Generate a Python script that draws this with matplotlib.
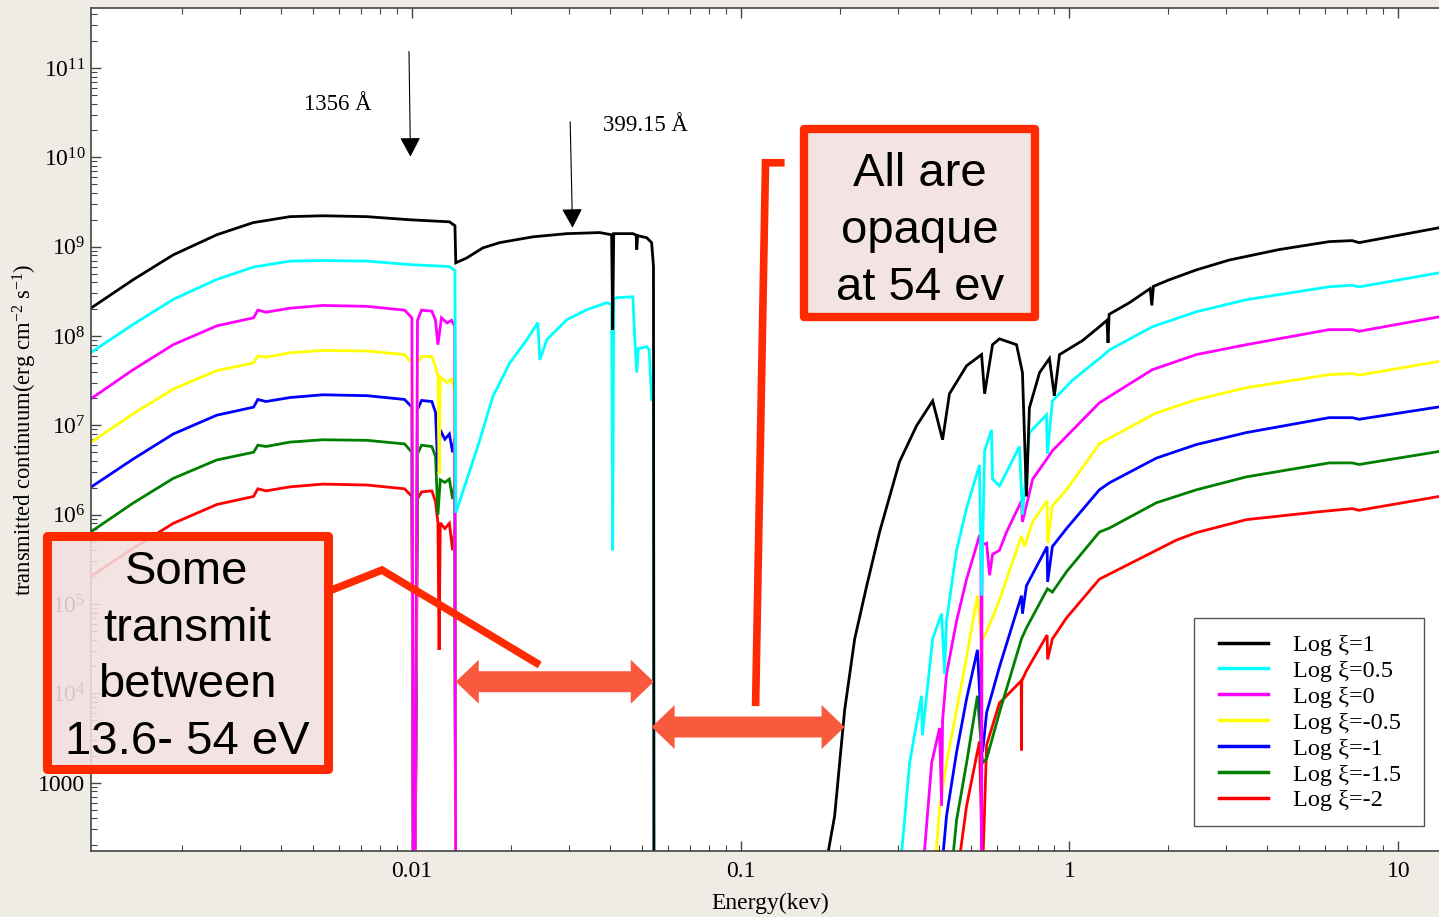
import numpy as np
import matplotlib.pyplot as plt
from matplotlib.lines import Line2D
from matplotlib.patches import Rectangle, Polygon
from matplotlib.ticker import FixedLocator, LogLocator, NullFormatter, FuncFormatter

plt.rcParams['font.family'] = ['Liberation Serif', 'DejaVu Serif']
plt.rcParams['mathtext.fontset'] = 'custom'
plt.rcParams['mathtext.rm'] = 'Liberation Serif'
plt.rcParams['mathtext.it'] = 'Liberation Serif:italic'

# energies in keV, transmitted continuum in erg cm^-2 s^-1
# (values of 10 / 100 mean the curve drops below the plotted range)
black_e = [0.00106, 0.00142, 0.00188, 0.00255, 0.00329, 0.00426, 0.00536, 0.0073, 0.0099, 0.0130,
           0.01352, 0.0136, 0.0147, 0.01644, 0.01849, 0.02085, 0.02333, 0.02958, 0.03726, 0.0405,
           0.0408, 0.0411, 0.0470, 0.0481, 0.0483, 0.0486, 0.0518, 0.0536, 0.0543, 0.0545,
           0.180, 0.1931, 0.2071, 0.2222, 0.2417, 0.2645, 0.304, 0.3427, 0.3836, 0.4112,
           0.4315, 0.4865, 0.5403, 0.5519, 0.5835, 0.6124, 0.6902, 0.7194, 0.7397, 0.7552,
           0.811, 0.869, 0.8995, 0.9325, 1.096, 1.233, 1.30, 1.31, 1.32, 1.521,
           1.76, 1.78, 1.80, 2.013, 2.432, 3.063, 4.348, 6.166, 7.244, 7.6, 13.3]
black_f = [2.07e8, 4.27e8, 8.1e8, 1.36e9, 1.86e9, 2.17e9, 2.22e9, 2.17e9, 2.0e9, 1.9e9,
           1.72e9, 6.6e8, 7.5e8, 9.7e8, 1.11e9, 1.20e9, 1.29e9, 1.40e9, 1.44e9, 1.36e9,
           1.18e8, 1.40e9, 1.40e9, 1.35e9, 9.3e8, 1.33e9, 1.26e9, 1.11e9, 6.0e8, 10,
           100, 425, 6.5e3, 4.07e4, 1.6e5, 6.4e5, 3.9e6, 9.9e6, 1.88e7, 6.9e6,
           2.26e7, 4.65e7, 6.2e7, 2.26e7, 8.0e7, 9.3e7, 8.0e7, 3.9e7, 1.6e6, 1.57e7,
           3.9e7, 5.6e7, 2.14e7, 6.2e7, 8.9e7, 1.27e8, 1.5e8, 8.4e7, 1.75e8, 2.36e8,
           3.4e8, 2.2e8, 3.6e8, 4.27e8, 5.5e8, 7.1e8, 9.3e8, 1.14e9, 1.17e9, 1.11e9, 1.63e9]

cyan_e = [0.00106, 0.00142, 0.00188, 0.00255, 0.00329, 0.00426, 0.00536, 0.0073, 0.0099, 0.0130,
          0.01352, 0.0136, 0.01469, 0.0161, 0.01762, 0.01985, 0.02237, 0.02415, 0.0245, 0.02572,
          0.02958, 0.03402, 0.03913, 0.0405, 0.0408, 0.0411, 0.0420, 0.0470, 0.0476, 0.0483,
          0.0488, 0.0518, 0.0527, 0.0536, 0.0543, 0.0545,
          0.305, 0.3265, 0.3548, 0.357, 0.3836, 0.4084, 0.4169, 0.4227, 0.4536, 0.4865,
          0.5324, 0.5403, 0.5519, 0.5795, 0.5835, 0.6124, 0.6437, 0.7047, 0.7194, 0.7552,
          0.8511, 0.857, 0.8872, 1.021, 1.233, 1.324, 1.786, 2.432, 3.449, 6.166,
          7.244, 7.6, 13.3]
cyan_f = [6.6e7, 1.35e8, 2.57e8, 4.3e8, 5.9e8, 6.9e8, 7.0e8, 6.9e8, 6.3e8, 6.0e8,
          5.4e8, 1.05e6, 2.46e6, 6.9e6, 2.09e7, 5.0e7, 9.1e7, 1.41e8, 5.4e7, 9.1e7,
          1.52e8, 1.97e8, 2.36e8, 2.25e8, 4.0e5, 2.6e8, 2.69e8, 2.75e8, 9.8e7, 3.9e7,
          7.2e7, 7.6e7, 7.0e7, 1.94e7, 1.9e7, 10,
          100, 1.67e3, 9.4e3, 3.4e3, 4.07e4, 7.8e4, 1.65e4, 6.5e4, 4.0e5, 1.19e6,
          3.6e6, 1.24e5, 5.2e6, 8.9e6, 2.5e6, 2.1e6, 3.0e6, 5.8e6, 1.0e6, 8.3e6,
          1.31e7, 4.8e6, 1.88e7, 3.2e7, 5.6e7, 7.0e7, 1.27e8, 1.87e8, 2.55e8, 3.56e8,
          3.7e8, 3.55e8, 5.1e8]

magenta_e = [0.00106, 0.00142, 0.00188, 0.00255, 0.0033, 0.0034, 0.0036, 0.00426, 0.00536, 0.0073,
             0.0095, 0.0100, 0.01012, 0.01020, 0.0104, 0.0107, 0.0115, 0.0118, 0.0120, 0.0123,
             0.0128, 0.0132, 0.0135, 0.0136,
             0.358, 0.381, 0.4027, 0.4084, 0.4112, 0.4227, 0.4536, 0.4865, 0.5324, 0.538,
             0.540, 0.542, 0.5598, 0.5715, 0.5835, 0.6124, 0.6437, 0.7145, 0.7194, 0.7727,
             0.857, 0.8872, 1.233, 1.786, 2.432, 3.449, 6.166, 7.244, 7.6, 13.3]
magenta_f = [2.0e7, 4.2e7, 8.0e7, 1.3e8, 1.6e8, 1.95e8, 1.85e8, 2.05e8, 2.2e8, 2.15e8,
             1.95e8, 1.6e8, 10, 10, 1.5e8, 1.95e8, 1.9e8, 1.5e8, 8e7, 1.6e8,
             1.4e8, 1.5e8, 1.3e8, 10,
             100, 1.67e3, 4.1e3, 550, 5.0e3, 1.65e4, 6.5e4, 1.9e5, 5.8e5, 5.8e5,
             10, 4.6e5, 4.8e5, 2.1e5, 3.6e5, 4.0e5, 6.4e5, 1.43e6, 8.3e5, 2.5e6,
             4.3e6, 5.2e6, 1.79e7, 4.2e7, 6.2e7, 8.0e7, 1.18e8, 1.18e8, 1.13e8, 1.64e8]

yellow_e = [0.00106, 0.00142, 0.00188, 0.00255, 0.0033, 0.0034, 0.0036, 0.00426, 0.00536, 0.0073,
            0.0095, 0.0100, 0.01012, 0.01020, 0.0104, 0.0107, 0.0115, 0.0118, 0.0120, 0.0121,
            0.0122, 0.0128, 0.0132, 0.0135, 0.0136,
            0.389, 0.4027, 0.4227, 0.4536, 0.4865, 0.525, 0.5403, 0.5598, 0.6124, 0.7145,
            0.7295, 0.7727, 0.855, 0.858, 0.8872, 0.9795, 1.233, 1.324, 1.837, 2.432,
            3.449, 6.166, 7.244, 7.6, 13.3]
yellow_f = [6.5e6, 1.35e7, 2.55e7, 4.1e7, 5.0e7, 6.0e7, 5.8e7, 6.5e7, 6.9e7, 6.8e7,
            6.2e7, 5.0e7, 10, 10, 5.0e7, 5.9e7, 5.9e7, 4.5e7, 3.5e7, 2.9e6,
            3.5e7, 3.0e7, 3.3e7, 2.5e7, 10,
            100, 510, 1.67e3, 6.5e3, 2.57e4, 1.24e5, 3.8e4, 4.9e4, 1.11e5, 5.8e5,
            4.4e5, 8.3e5, 1.43e6, 4.8e5, 1.26e6, 1.9e6, 6.2e6, 7.2e6, 1.38e7, 1.94e7,
            2.64e7, 3.7e7, 3.8e7, 3.65e7, 5.2e7]

blue_e = [0.00106, 0.00142, 0.00188, 0.00255, 0.0033, 0.0034, 0.0036, 0.00426, 0.00536, 0.0073,
          0.0095, 0.0100, 0.01012, 0.01020, 0.0104, 0.0107, 0.0115, 0.0118, 0.0120, 0.0122,
          0.0126, 0.0130, 0.0133, 0.0135, 0.0136,
          0.408, 0.4227, 0.4536, 0.4865, 0.525, 0.5441, 0.5598, 0.6124, 0.7145, 0.7194,
          0.7397, 0.855, 0.858, 0.8872, 0.9795, 1.233, 1.324, 1.837, 2.432, 3.449,
          6.166, 7.244, 7.6, 13.3]
blue_f = [2.05e6, 4.2e6, 8.0e6, 1.3e7, 1.6e7, 1.95e7, 1.85e7, 2.05e7, 2.2e7, 2.15e7,
          1.95e7, 1.6e7, 10, 10, 1.5e7, 1.9e7, 1.85e7, 1.4e7, 3.0e6, 8.9e6,
          7.0e6, 8.0e6, 5.0e6, 7.0e6, 10,
          100, 425, 2.2e3, 8.7e3, 3.07e4, 2.2e3, 6.1e3, 1.98e4, 1.24e5, 7.8e4,
          1.6e5, 4.4e5, 1.77e5, 4.4e5, 7.0e5, 1.9e6, 2.28e6, 4.3e6, 6.1e6, 8.3e6,
          1.22e7, 1.22e7, 1.17e7, 1.61e7]

green_e = [0.00106, 0.00142, 0.00188, 0.00255, 0.0033, 0.0034, 0.0036, 0.00426, 0.00536, 0.0073,
           0.0095, 0.0100, 0.01012, 0.01020, 0.0104, 0.0107, 0.0115, 0.0118, 0.0120, 0.0122,
           0.0126, 0.0130, 0.0133, 0.0135, 0.0136,
           0.4375, 0.4536, 0.4865, 0.525, 0.5441, 0.5598, 0.6124, 0.7145, 0.7397, 0.857,
           0.8872, 0.9795, 1.233, 1.324, 1.837, 2.432, 3.449, 6.166, 7.244, 7.6, 13.3]
green_f = [6.5e5, 1.35e6, 2.55e6, 4.1e6, 5.0e6, 6.0e6, 5.8e6, 6.5e6, 6.9e6, 6.8e6,
           6.2e6, 5.0e6, 10, 10, 4.8e6, 6.0e6, 5.8e6, 4.5e6, 1.0e6, 2.46e6,
           2.3e6, 2.5e6, 1.5e6, 2.2e6, 10,
           100, 383, 1.67e3, 9.4e3, 1.67e3, 1.85e3, 6.1e3, 4.07e4, 5.4e4, 1.48e5,
           1.36e5, 2.3e5, 6.4e5, 7.1e5, 1.36e6, 1.9e6, 2.65e6, 3.8e6, 3.8e6, 3.65e6, 5.1e6]

red_e = [0.00106, 0.00142, 0.00188, 0.00255, 0.0033, 0.0034, 0.0036, 0.00426, 0.00536, 0.0073,
         0.0095, 0.0100, 0.01012, 0.01020, 0.0104, 0.0107, 0.0115, 0.0118, 0.0120, 0.0121,
         0.0122, 0.0126, 0.0130, 0.0133, 0.0135, 0.0136,
         0.457, 0.4865, 0.5324, 0.5441, 0.5598, 0.6124, 0.7130, 0.7145, 0.7160, 0.7397,
         0.855, 0.858, 0.8872, 0.9795, 1.233, 2.115, 2.432, 3.449, 5.754, 7.244, 7.6, 13.3]
red_f = [2.07e5, 4.2e5, 8.0e5, 1.3e6, 1.6e6, 1.95e6, 1.85e6, 2.05e6, 2.2e6, 2.15e6,
         1.95e6, 1.6e6, 10, 10, 1.5e6, 1.8e6, 1.85e6, 1.4e6, 8.1e5, 3.07e4,
         8.1e5, 7.0e5, 8.0e5, 4.0e5, 7.0e5, 10,
         100, 550, 2.9e3, 100, 2.65e3, 7.8e3, 1.38e4, 2.3e3, 1.38e4, 1.79e4,
         4.5e4, 2.4e4, 4.07e4, 7.0e4, 1.9e5, 5.2e5, 6.3e5, 8.8e5, 1.08e6, 1.17e6, 1.12e6, 1.6e6]

labels = ['Log ξ=1', 'Log ξ=0.5', 'Log ξ=0', 'Log ξ=-0.5', 'Log ξ=-1', 'Log ξ=-1.5', 'Log ξ=-2']
colors = ['black', '#00ffff', '#ff00ff', '#ffff00', '#0000ff', '#008000', '#ff0000']
series = [(black_e, black_f), (cyan_e, cyan_f), (magenta_e, magenta_f), (yellow_e, yellow_f),
          (blue_e, blue_f), (green_e, green_f), (red_e, red_f)]
y_ticks = [1e3, 1e4, 1e5, 1e6, 1e7, 1e8, 1e9, 1e10, 1e11]

W, H = 1439, 917
fig = plt.figure(figsize=(W / 100, H / 100), dpi=100)
fig.patch.set_facecolor('#efece6')
ax = fig.add_axes([91 / W, 66 / H, 1348 / W, 843 / H])
ax.set_facecolor('white')

# draw lowest ionisation first so Log xi=1 ends up on top
for (e, f), c in list(zip(series, colors))[::-1]:
    ax.plot(e, f, color=c, lw=2.0, solid_joinstyle='miter')

ax.set_xscale('log')
ax.set_yscale('log')
ax.set_xlim(0.001057, 13.3)
ax.set_ylim(172, 4.7e11)

ax.xaxis.set_major_locator(FixedLocator([0.01, 0.1, 1, 10]))
ax.xaxis.set_major_formatter(FuncFormatter(lambda v, p: '%g' % v))
ax.xaxis.set_minor_locator(LogLocator(base=10, subs=np.arange(2, 10), numticks=20))
ax.xaxis.set_minor_formatter(NullFormatter())
ax.yaxis.set_major_locator(FixedLocator(y_ticks))
ax.yaxis.set_minor_locator(LogLocator(base=10, subs=np.arange(2, 10), numticks=20))
ax.yaxis.set_minor_formatter(NullFormatter())


def ylab(v, p):
    n = int(round(np.log10(v)))
    if n == 3:
        return '1000'
    return r'$\mathregular{10^{%d}}$' % n


ax.yaxis.set_major_formatter(FuncFormatter(ylab))
ax.tick_params(which='both', direction='in', top=True, right=False, color='#444444')
ax.tick_params(which='major', length=7, width=1.0, labelsize=17)
ax.tick_params(which='minor', length=4, width=0.8)
ax.tick_params(axis='x', which='major', pad=7)
ax.tick_params(axis='y', which='major', pad=4)
ax.spines['right'].set_visible(False)
for s in ['left', 'bottom', 'top']:
    ax.spines[s].set_color('#444444')
    ax.spines[s].set_linewidth(1.2)

fig.text(25 / W, 1 - 430 / H, r'transmitted continuum(erg cm$^{-2}$ s$^{-1}$)',
         rotation=90, ha='center', va='center', fontsize=16.3)
fig.text(770 / W, 1 - 903 / H, 'Energy(kev)', ha='center', va='center', fontsize=17)

# wavelength markers
ax.annotate('', xy=(0.0099, 1.02e10), xytext=(0.0098, 1.53e11),
            arrowprops=dict(arrowstyle='-|>,head_length=0.6,head_width=0.32', color='black',
                            lw=0.8, shrinkA=0, shrinkB=0, mutation_scale=20))
ax.text(0.00596, 3.9e10, '1356 Å', ha='center', va='center', fontsize=16.5)
ax.annotate('', xy=(0.0308, 1.63e9), xytext=(0.0303, 2.5e10),
            arrowprops=dict(arrowstyle='-|>,head_length=0.6,head_width=0.32', color='black',
                            lw=0.8, shrinkA=0, shrinkB=0, mutation_scale=20))
ax.text(0.0514, 2.27e10, '399.15 Å', ha='center', va='center', fontsize=16.5)

# double arrows for the H and He+ edges, built as one polygon in pixel units
arrow_col = '#f95a3e'
band = [(0.0136, 0.0544, 1.35e4), (0.0536, 0.207, 4.2e3)]
head_len, head_half, shaft_half = 23, 22, 10.5
for x0, x1, yv in band:
    (px0, py), (px1, _) = ax.transData.transform([(x0, yv), (x1, yv)])
    pts = [(px0, py), (px0 + head_len, py + head_half), (px0 + head_len, py + shaft_half),
           (px1 - head_len, py + shaft_half), (px1 - head_len, py + head_half), (px1, py),
           (px1 - head_len, py - head_half), (px1 - head_len, py - shaft_half),
           (px0 + head_len, py - shaft_half), (px0 + head_len, py - head_half)]
    ax.add_patch(Polygon(ax.transData.inverted().transform(pts), closed=True,
                         facecolor=arrow_col, edgecolor='none', zorder=3))

# callout lines
callout_red = '#ff2a00'
ax.plot([0.00571, 0.00811, 0.02448], [1.44e5, 2.4e5, 2.08e4], color=callout_red, lw=5.5,
        solid_joinstyle='miter', solid_capstyle='butt')
ax.plot([0.136, 0.119, 0.111], [8.7e9, 8.7e9, 7.2e3], color=callout_red, lw=5.5,
        solid_joinstyle='miter', solid_capstyle='butt')

# text boxes
box_fill = (0.953, 0.878, 0.878, 0.88)
fig.patches.append(Rectangle((46.5 / W, 1 - 768.5 / H), 281 / W, 233 / H, transform=fig.transFigure,
                             facecolor=box_fill, edgecolor=callout_red, lw=6.5, joinstyle='round'))
fig.patches.append(Rectangle((804 / W, 1 - 317 / H), 231 / W, 188 / H, transform=fig.transFigure,
                             facecolor=box_fill, edgecolor=callout_red, lw=6.0, joinstyle='round'))
fig.text(187 / W, 1 - 657 / H, 'Some\ntransmit\nbetween\n13.6- 54 eV', ha='center', va='center',
         fontsize=34, family='Liberation Sans', linespacing=1.37, zorder=5)
fig.text(920 / W, 1 - 231 / H, 'All are\nopaque\nat 54 ev', ha='center', va='center',
         fontsize=34, family='Liberation Sans', linespacing=1.37, zorder=5)

# legend: frame drawn separately so the padding can match
fig.patches.append(Rectangle((1194 / W, 1 - 826 / H), 230 / W, 208 / H, transform=fig.transFigure,
                             facecolor='white', edgecolor='#555555', lw=1.0, zorder=4))
handles = [Line2D([], [], color=c, lw=2.5) for c in colors]
leg = ax.legend(handles, labels, loc='upper left', bbox_to_anchor=(1219 / W, 1 - 634 / H),
                bbox_transform=fig.transFigure, frameon=False, fontsize=17.5,
                handlelength=2.0, handletextpad=1.05, labelspacing=0.16,
                borderpad=0, borderaxespad=0)
leg.set_zorder(5)
leg.remove()
fig.add_artist(leg)

fig.savefig('out.png', dpi=100, facecolor=fig.get_facecolor())
